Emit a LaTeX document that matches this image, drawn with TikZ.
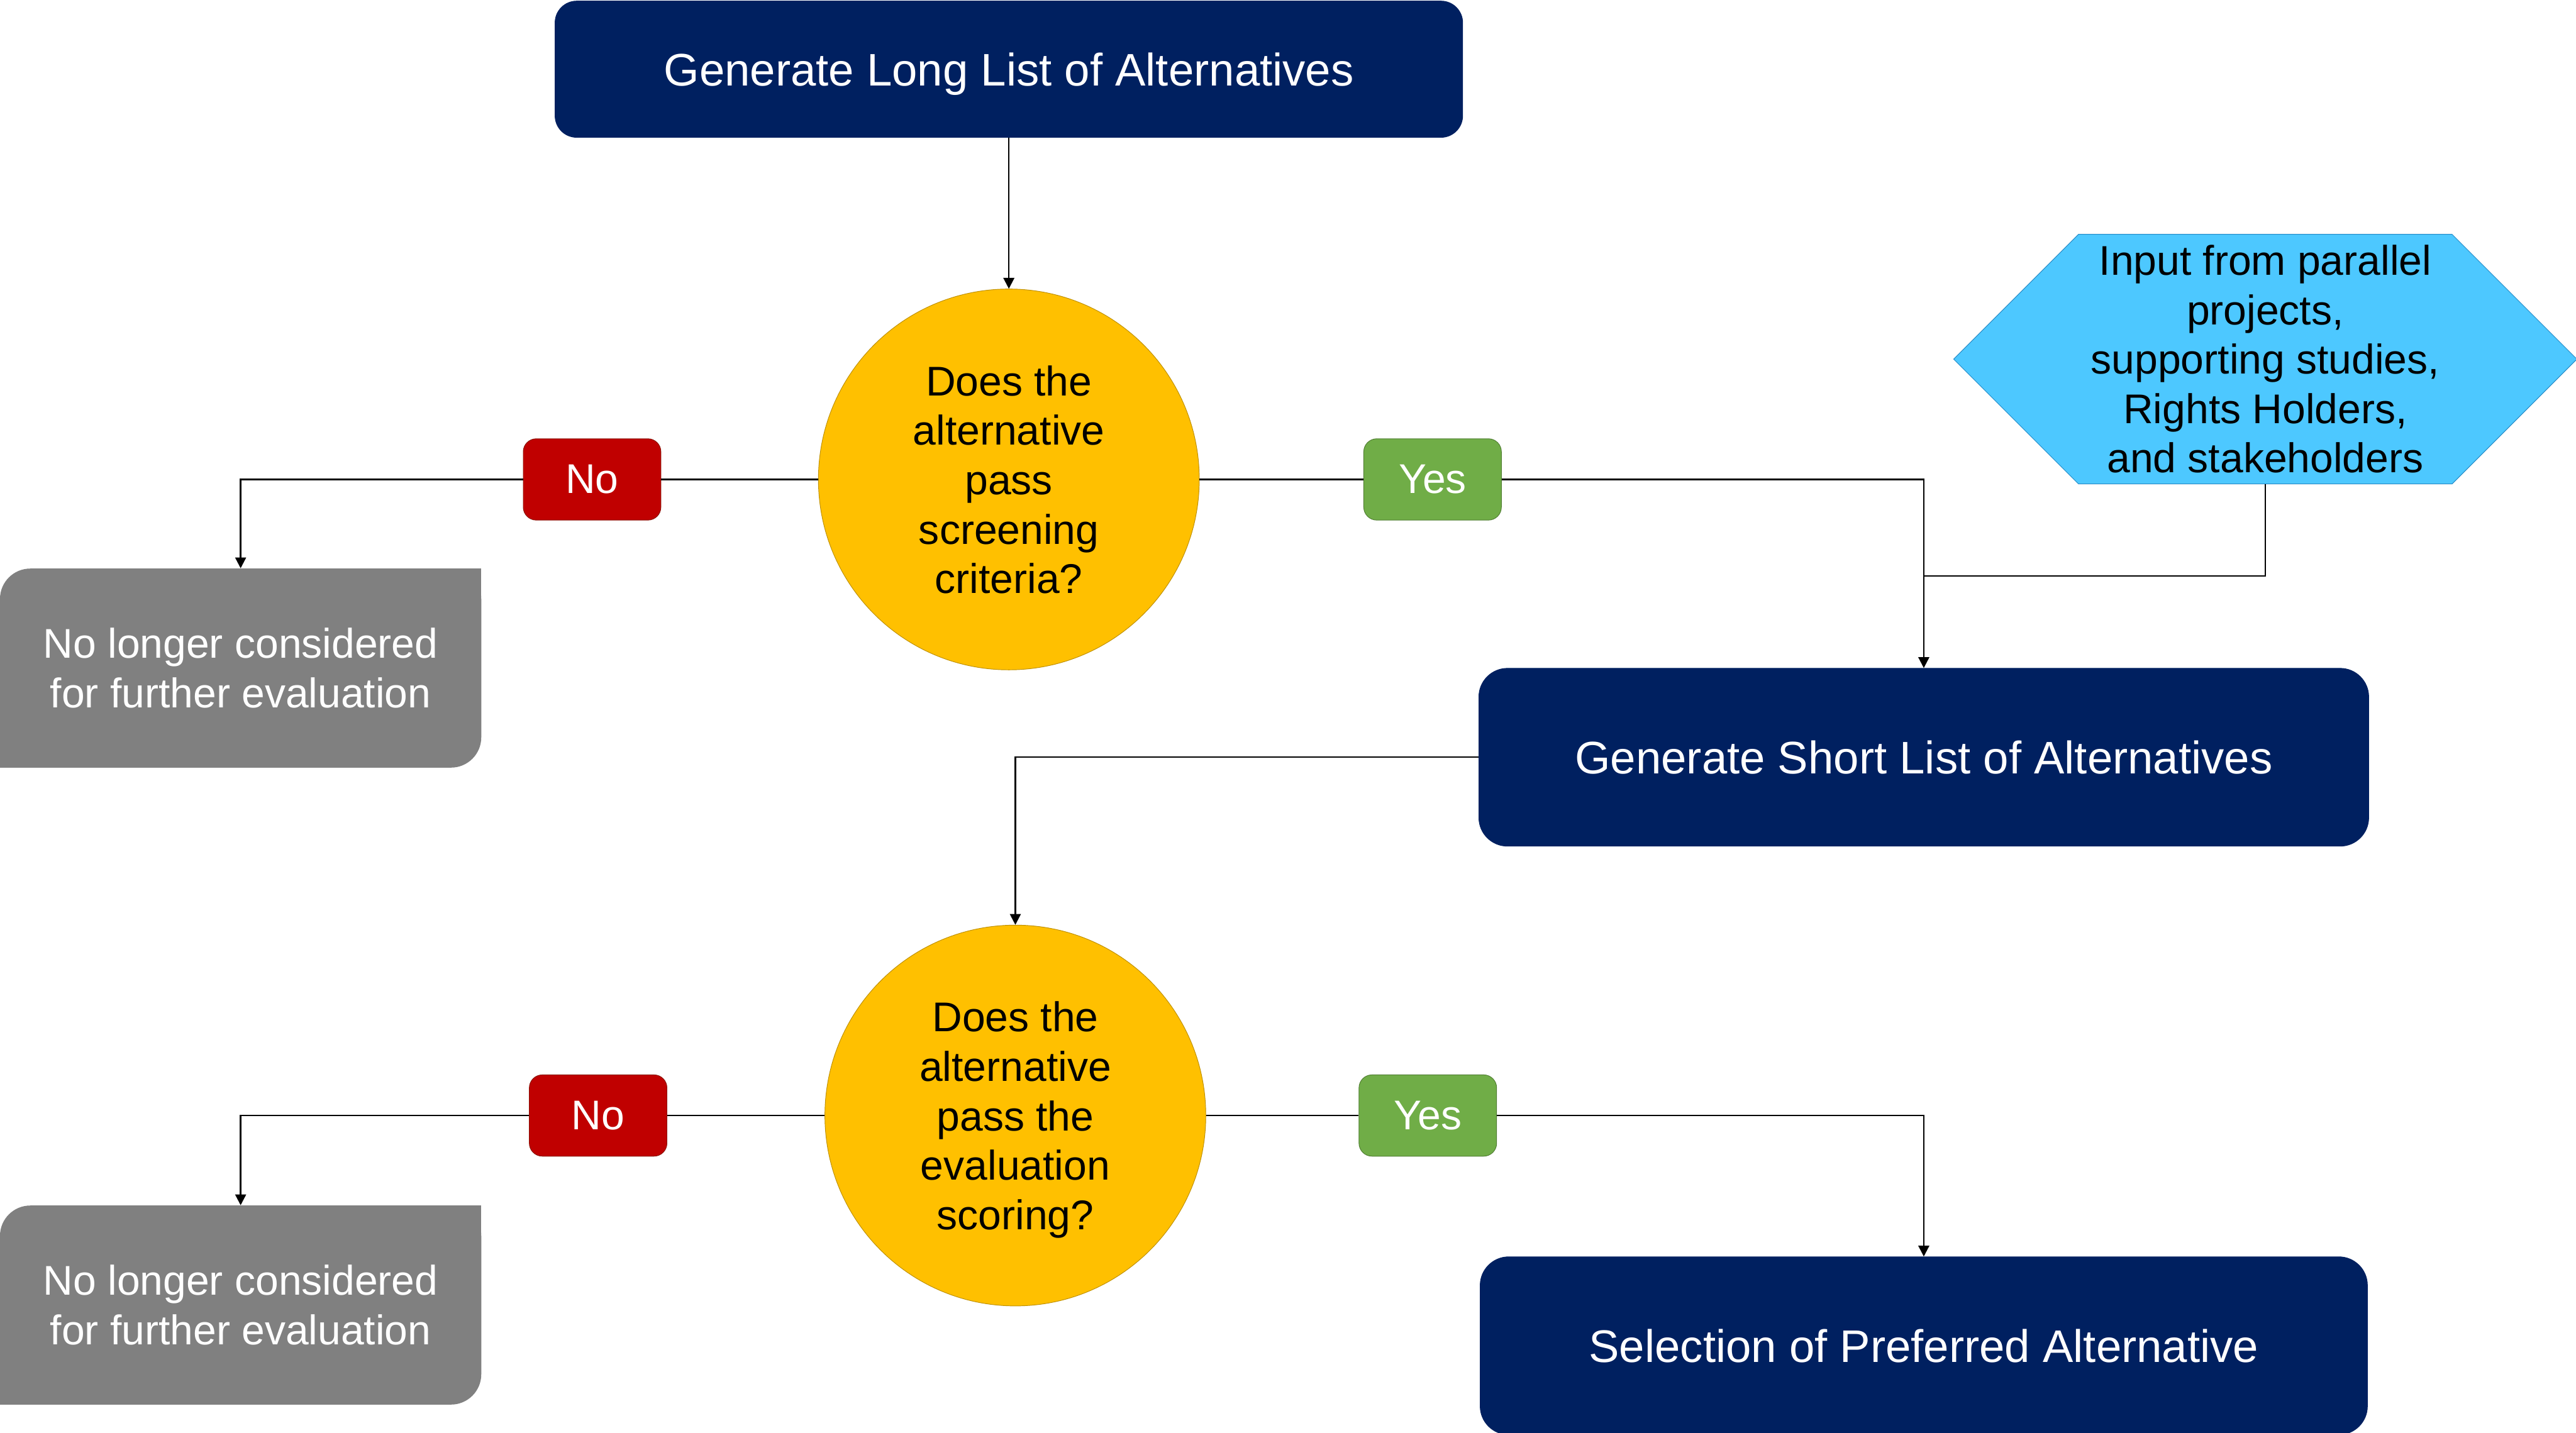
\documentclass[tikz,border=0pt]{standalone}
\usepackage{fontspec}
\setmainfont{Liberation Sans}
\usepackage{tikz}
\usetikzlibrary{arrows.meta}
\usetikzlibrary{shapes.symbols}
\usepackage{xcolor}
\definecolor{ColNavy}{RGB}{0,32,96}
\definecolor{ColGold}{RGB}{255,192,0}
\definecolor{ColGoldLine}{RGB}{191,144,0}
\definecolor{ColRed}{RGB}{192,0,0}
\definecolor{ColRedLine}{RGB}{140,20,10}
\definecolor{ColGreen}{RGB}{112,173,71}
\definecolor{ColGreenLine}{RGB}{80,126,50}
\definecolor{ColGray}{RGB}{128,128,128}
\definecolor{ColSky}{RGB}{77,200,255}
\definecolor{ColSkyLine}{RGB}{40,140,200}
\tikzstyle{FontFlow}=[font=\fontsize{27.3}{32.5}\selectfont,align=center,inner sep=0pt]
\tikzstyle{StepFlow}=[FontFlow,font=\fontsize{30}{32.5}\selectfont,text depth=0pt,rectangle,rounded corners=0.5cm,
fill=ColNavy,draw=ColNavy,text=white]
\tikzstyle{DecisionFlow}=[FontFlow,text depth=0pt,circle,fill=ColGold,draw=ColGoldLine,minimum size=8.8cm]
\tikzstyle{NoFlow}=[FontFlow,rectangle,rounded corners=0.3cm,fill=ColRed,draw=ColRedLine,text=white,
minimum width=3.18cm,minimum height=1.88cm]
\tikzstyle{YesFlow}=[NoFlow,fill=ColGreen,draw=ColGreenLine]
\tikzstyle{DropFlow}=[FontFlow,rectangle,fill=white,text=white,minimum width=11.12cm,minimum height=4.6cm,
path picture={\fill[ColGray,rounded corners=0.7cm](path picture bounding box.south west)rectangle(path picture bounding box.north east);
\fill[ColGray](path picture bounding box.north east)rectangle([xshift=-0.7cm,yshift=-0.7cm]path picture bounding box.north east);
\fill[ColGray](path picture bounding box.south west)rectangle([xshift=0.7cm,yshift=0.7cm]path picture bounding box.south west);}]
\tikzstyle{InputFlow}=[FontFlow,signal,signal to=west and east,signal pointer angle=90,fill=ColSky,draw=ColSkyLine,
minimum width=14.4cm,minimum height=5.77cm]
\tikzstyle{EdgeFlow}=[black,line width=1pt]
\tikzstyle{ArcFlow}=[EdgeFlow,-{Triangle[length=0.25cm,width=0.25cm]}]
\begin{document}
\begin{tikzpicture}
        \useasboundingbox(0,0)rectangle(59.52,33.11);
        \node[StepFlow,minimum width=20.97cm,minimum height=3.15cm](Long)at(23.31,31.51){Generate Long List of Alternatives};
        \node[DecisionFlow](Screen)at(23.31,22.03){Does the\\alternative\\pass\\screening\\criteria?};
        \node[NoFlow](NoA)at(13.68,22.03){No};
        \node[YesFlow](YesA)at(33.10,22.03){Yes};
        \node[DropFlow](DropA)at(5.56,17.67){No longer considered\\for further evaluation};
        \node[InputFlow](Input)at(52.34,24.81){Input from parallel\\projects,\\supporting studies,\\Rights Holders,\\and stakeholders};
        \node[StepFlow,rounded corners=0.66cm,minimum width=20.56cm,minimum height=4.11cm](Short)at(44.45,15.61){Generate Short List of Alternatives};
        \node[DecisionFlow](Score)at(23.46,7.33){Does the\\alternative\\pass the\\evaluation\\scoring?};
        \node[NoFlow](NoB)at(13.82,7.33){No};
        \node[YesFlow](YesB)at(32.99,7.33){Yes};
        \node[DropFlow](DropB)at(5.56,2.95){No longer considered\\for further evaluation};
        \node[StepFlow,rounded corners=0.66cm,minimum width=20.5cm,minimum height=4.11cm](Select)at(44.45,2.01){Selection of Preferred Alternative};
        \coordinate(Join)at(44.45,19.80);
        \draw[ArcFlow](Long)--(Screen);
        \draw[EdgeFlow](Screen)--(NoA);
        \draw[ArcFlow](NoA)-|(DropA);
        \draw[EdgeFlow](Screen)--(YesA);
        \draw[ArcFlow](YesA)-|(Short);
        \draw[EdgeFlow](Input)|-(Join);
        \draw[ArcFlow](Short)-|(Score);
        \draw[EdgeFlow](Score)--(NoB);
        \draw[ArcFlow](NoB)-|(DropB);
        \draw[EdgeFlow](Score)--(YesB);
        \draw[ArcFlow](YesB)-|(Select);
    \end{tikzpicture}
\end{document}
